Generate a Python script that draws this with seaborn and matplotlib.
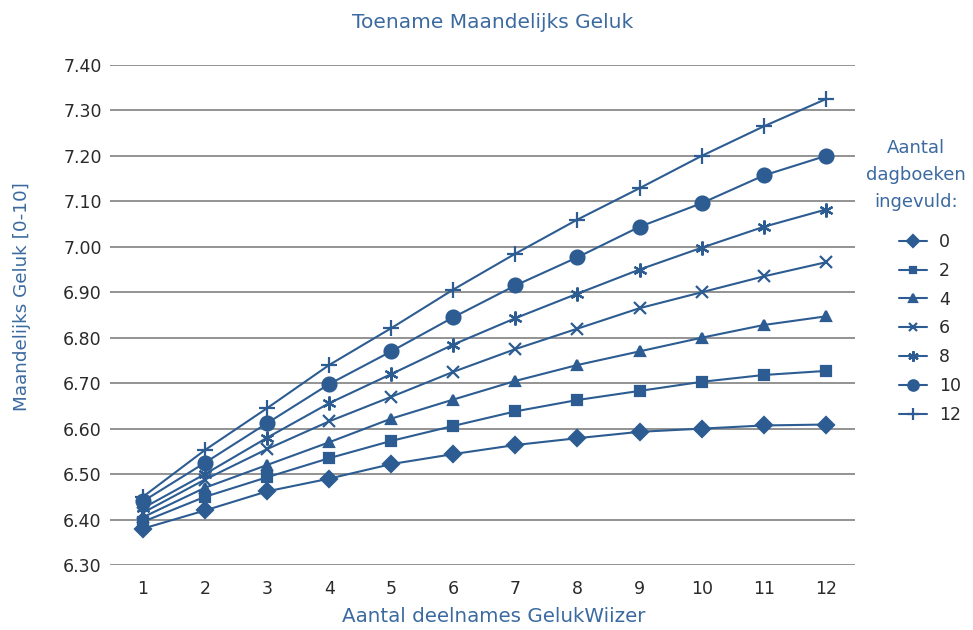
import matplotlib
matplotlib.use("Agg")
import matplotlib.pyplot as plt
import seaborn as sns

sns.set_style("white")
plt.rcParams['font.family'] = ['DejaVu Sans']

# data
deelnames = list(range(1, 13))
dagboeken = [0, 2, 4, 6, 8, 10, 12]
geluk_0 = [6.38, 6.42, 6.462, 6.49, 6.522, 6.544, 6.564, 6.579, 6.593, 6.60, 6.607, 6.609]
geluk_2 = [6.395, 6.45, 6.493, 6.535, 6.573, 6.606, 6.638, 6.663, 6.683, 6.703, 6.718, 6.727]
geluk_4 = [6.405, 6.47, 6.52, 6.57, 6.622, 6.664, 6.705, 6.74, 6.77, 6.80, 6.828, 6.847]
geluk_6 = [6.415, 6.488, 6.555, 6.616, 6.67, 6.725, 6.775, 6.82, 6.865, 6.90, 6.935, 6.966]
geluk_8 = [6.425, 6.50, 6.58, 6.656, 6.72, 6.785, 6.843, 6.897, 6.95, 6.998, 7.044, 7.082]
geluk_10 = [6.44, 6.525, 6.612, 6.698, 6.77, 6.845, 6.915, 6.977, 7.044, 7.096, 7.157, 7.20]
geluk_12 = [6.45, 6.553, 6.645, 6.74, 6.821, 6.906, 6.985, 7.06, 7.129, 7.20, 7.265, 7.325]
yticks = [6.30, 6.40, 6.50, 6.60, 6.70, 6.80, 6.90, 7.00, 7.10, 7.20, 7.30, 7.40]

series = [geluk_0, geluk_2, geluk_4, geluk_6, geluk_8, geluk_10, geluk_12]
markers = ['D', 's', '^', 'x', (6, 2, 0), 'o', '+']
msizes = [8, 6.5, 7, 8, 10, 10, 11]

blue = '#2c5c91'
textblue = '#3b6aa0'

fig = plt.figure(figsize=(9.73, 6.30), dpi=100)
ax = fig.add_axes([110/973, 1-565/630, (855-110)/973, 500/630])

for n, vals, m, ms in zip(dagboeken, series, markers, msizes):
	sns.lineplot(x=deelnames, y=vals, ax=ax, color=blue, marker=m, markersize=ms,
		markeredgecolor=blue, markerfacecolor=blue, markeredgewidth=1.6,
		linewidth=1.5, label=str(n))

ax.set_xlim(0.47, 12.47)
ax.set_ylim(6.30, 7.40)
ax.set_xticks(deelnames)
ax.set_yticks(yticks)
ax.set_yticklabels(['%.2f' % t for t in yticks])
ax.grid(axis='y', color='#8a8a8a', linewidth=1.3)
ax.grid(axis='x', visible=False)
ax.set_axisbelow(True)
for s in ax.spines.values():
	s.set_visible(False)
ax.tick_params(axis='y', length=0, pad=6, labelsize=12.5, labelcolor='#2a2a2a')
ax.tick_params(axis='x', length=0, pad=11, labelsize=12.5, labelcolor='#2a2a2a')
ax.set_xlabel('')
ax.set_ylabel('')

fig.text(493/973, 1-22/630, 'Toename Maandelijks Geluk', ha='center', va='center',
	fontsize=14.5, color=textblue)
fig.text(494/973, 1-616/630, 'Aantal deelnames GelukWiizer', ha='center', va='center',
	fontsize=14.3, color=textblue)
fig.text(22/973, 1-297/630, 'Maandelijks Geluk [0-10]', ha='center', va='center',
	rotation=90, fontsize=13.2, color=textblue)
fig.text(916/973, 1-175/630, 'Aantal\ndagboeken\ningevuld:', ha='center', va='center',
	multialignment='center', linespacing=1.62, fontsize=13, color=textblue)

handles, labels = ax.get_legend_handles_labels()
leg = ax.legend(handles, labels, frameon=False, markerscale=0.75,
	loc='upper left', bbox_to_anchor=(899/973, 1-233/630), bbox_transform=fig.transFigure,
	fontsize=12.5, handlelength=1.6, handletextpad=0.7,
	labelspacing=0.62, borderpad=0, borderaxespad=0)
for t in leg.get_texts():
	t.set_color('#2a2a2a')

plt.savefig('out.png', dpi=100)
